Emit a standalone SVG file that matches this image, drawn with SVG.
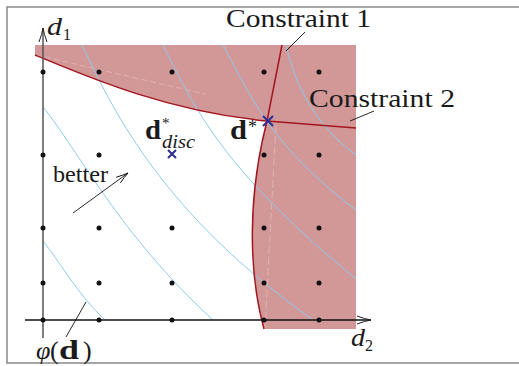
<svg xmlns="http://www.w3.org/2000/svg" width="519" height="366" viewBox="0 0 519 366">
<defs>
<style>
.t{font-family:"Liberation Serif","Times New Roman",serif;fill:#1a1a1a}
.it{font-style:italic}
.bd{font-weight:bold}
.blue{fill:none;stroke:#8dcbf0;stroke-width:1}
.red{fill:none;stroke:#a3161f;stroke-width:1.5}
.lead{fill:none;stroke:#111;stroke-width:0.9}
.dot{fill:#111}
.cross{stroke:#2d2d94;stroke-width:2;fill:none}
.seam{fill:none;stroke:#e4b9b9;stroke-width:1;opacity:0.8}
</style>
<marker id="axh" markerWidth="16" markerHeight="10" refX="15" refY="5" orient="auto" markerUnits="userSpaceOnUse">
<path d="M1,1 Q9,4 15,5 Q9,6 1,9" fill="none" stroke="#222" stroke-width="1"/>
</marker>
<marker id="bh" markerWidth="14" markerHeight="10" refX="13" refY="5" orient="auto" markerUnits="userSpaceOnUse">
<path d="M1,1.5 Q8,4 13,5 Q8,6 1,8.5" fill="none" stroke="#111" stroke-width="0.9"/>
</marker>
<clipPath id="plotclip"><rect x="43" y="45" width="313" height="275"/></clipPath>
</defs>

<path id="frame" d="M519,7 H7 V363 H519" fill="none" stroke="#888" stroke-width="1.5"/>

<g id="infeasible">
<path d="M35,45 H356 V329 H264 C248,270 248,195 267,121 C170,112 90,78 35,55 Z" fill="#d29797"/>
<path class="seam" d="M36,55 L205,94" stroke-dasharray="6 3"/>
<path class="seam" d="M276,125 L265,328" stroke-dasharray="8 3"/>
</g>

<g id="contours" clip-path="url(#plotclip)">
<path class="blue" d="M43,241 C60,262 78,295 105,320"/>
<path class="blue" d="M43,107 C78,150 120,235 213,320"/>
<path class="blue" d="M82,45 C115,115 165,215 313,320"/>
<path class="blue" d="M163,45 C200,120 230,175 356,279"/>
<path class="blue" d="M223,45 C250,95 270,145 356,210"/>
<path class="blue" d="M286,45 C295,85 315,125 356,155"/>
</g>

<g id="constraint1">
<path class="red" d="M264,329 C248,270 248,195 267,121 L282,45"/>
</g>
<g id="constraint2">
<path class="red" d="M35,55 C90,78 170,112 267,121 L356,128"/>
</g>

<g id="axes">
<line x1="43" y1="338" x2="43" y2="28" stroke="#555" stroke-width="1.5" marker-end="url(#axh)"/>
<line x1="25" y1="320" x2="371" y2="320" stroke="#111" stroke-width="1.3" marker-end="url(#axh)"/>
</g>

<g id="grid">
<circle class="dot" cx="43" cy="72" r="2.5"/><circle class="dot" cx="99" cy="72" r="2.5"/><circle class="dot" cx="172" cy="72" r="2.5"/><circle class="dot" cx="264" cy="72" r="2.5"/><circle class="dot" cx="319" cy="72" r="2.5"/>
<circle class="dot" cx="43" cy="155" r="2.5"/><circle class="dot" cx="99" cy="155" r="2.5"/><circle class="dot" cx="264" cy="155" r="2.5"/><circle class="dot" cx="319" cy="155" r="2.5"/>
<circle class="dot" cx="43" cy="228" r="2.5"/><circle class="dot" cx="99" cy="228" r="2.5"/><circle class="dot" cx="172" cy="228" r="2.5"/><circle class="dot" cx="264" cy="228" r="2.5"/><circle class="dot" cx="319" cy="228" r="2.5"/>
<circle class="dot" cx="43" cy="283" r="2.5"/><circle class="dot" cx="99" cy="283" r="2.5"/><circle class="dot" cx="172" cy="283" r="2.5"/><circle class="dot" cx="264" cy="283" r="2.5"/><circle class="dot" cx="319" cy="283" r="2.5"/>
<circle class="dot" cx="43" cy="320" r="2.5"/><circle class="dot" cx="99" cy="320" r="2.5"/><circle class="dot" cx="172" cy="320" r="2.5"/><circle class="dot" cx="264" cy="320" r="2.5"/><circle class="dot" cx="319" cy="320" r="2.5"/>
</g>

<g id="dstar">
<path class="cross" d="M263,116 L273,126 M273,116 L263,126"/>
<text class="t bd" x="230" y="139" font-size="27" textLength="17" lengthAdjust="spacingAndGlyphs">d</text>
<text class="t" x="248" y="133" font-size="18">*</text>
</g>

<g id="ddisc">
<path class="cross" d="M168,150 L176,158 M176,150 L168,158"/>
<text class="t bd" x="145" y="139" font-size="27" textLength="16" lengthAdjust="spacingAndGlyphs">d</text>
<text class="t" x="162" y="128" font-size="15">*</text>
<text class="t it" x="162" y="148" font-size="19" textLength="33" lengthAdjust="spacingAndGlyphs">disc</text>
</g>

<g id="connectors">
<line class="lead" x1="305" y1="32" x2="286" y2="51"/>
<line class="lead" x1="374" y1="111" x2="350" y2="121"/>
<line class="lead" x1="66" y1="337" x2="86" y2="302"/>
<line class="lead" x1="73" y1="213" x2="128" y2="173" marker-end="url(#bh)"/>
</g>

<g id="labels">
<text class="t" x="226" y="27" font-size="26" textLength="145" lengthAdjust="spacingAndGlyphs">Constraint 1</text>
<text class="t" x="309" y="107" font-size="26" textLength="146" lengthAdjust="spacingAndGlyphs">Constraint 2</text>
<text class="t" x="53" y="182" font-size="24" textLength="55" lengthAdjust="spacingAndGlyphs">better</text>
<text class="t it" x="47" y="35" font-size="25" textLength="15" lengthAdjust="spacingAndGlyphs">d</text>
<text class="t" x="63" y="40" font-size="16">1</text>
<text class="t it" x="351" y="346" font-size="25" textLength="14" lengthAdjust="spacingAndGlyphs">d</text>
<text class="t" x="365" y="351" font-size="16">2</text>
<text class="t it" x="36" y="359" font-size="26">φ</text>
<text class="t" x="50" y="359" font-size="26">(</text>
<text class="t bd" x="59" y="359" font-size="27" textLength="20" lengthAdjust="spacingAndGlyphs">d</text>
<text class="t" x="83" y="359" font-size="26">)</text>
</g>
</svg>
